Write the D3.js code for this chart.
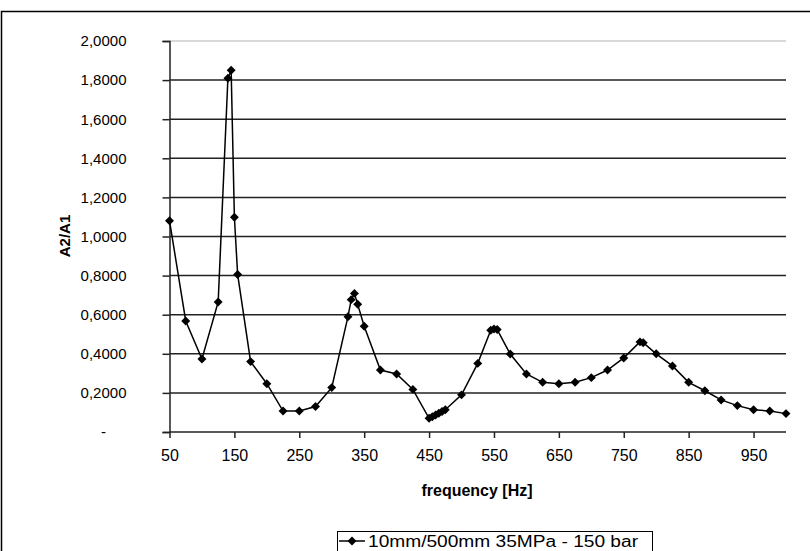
<!DOCTYPE html>
<html>
<head>
<meta charset="utf-8">
<script src="https://cdn.jsdelivr.net/npm/d3@7"></script>
<style>
  body { margin: 0; background: #fff; }
  svg { display: block; font-family: "Liberation Sans", Arial, sans-serif; }
</style>
</head>
<body>
<div id="chart"></div>
<script>
// measured data: frequency [Hz] vs A2/A1
const freq = [50, 75, 100, 125, 140, 145, 150, 155, 175, 200, 225, 250, 275, 300,
  325, 330, 335, 340, 350, 375, 400, 425, 450, 455, 460, 465, 470, 475, 500, 525,
  545, 550, 555, 575, 600, 625, 650, 675, 700, 725, 750, 775, 780, 800, 825, 850,
  875, 900, 925, 950, 975, 1000];
const ratio = [1.081, 0.568, 0.373, 0.665, 1.809, 1.850, 1.098, 0.806, 0.360, 0.247,
  0.107, 0.107, 0.130, 0.227, 0.590, 0.677, 0.709, 0.653, 0.541, 0.317, 0.297, 0.218,
  0.070, 0.078, 0.087, 0.096, 0.105, 0.114, 0.190, 0.351, 0.520, 0.527, 0.524, 0.399,
  0.297, 0.254, 0.247, 0.254, 0.278, 0.317, 0.379, 0.461, 0.457, 0.400, 0.338, 0.254,
  0.211, 0.164, 0.135, 0.114, 0.107, 0.094];
const xTicks = [50, 150, 250, 350, 450, 550, 650, 750, 850, 950];
const yTicks = [0, 0.2, 0.4, 0.6, 0.8, 1.0, 1.2, 1.4, 1.6, 1.8, 2.0];
const seriesName = "10mm/500mm 35MPa - 150 bar";

const W = 810, H = 551;
const plot = {left: 169.5, right: 786, top: 41, bottom: 432};

const svg = d3.select("#chart").append("svg")
  .attr("width", W).attr("height", H);

// chart border (right and bottom edges fall outside the picture)
svg.append("rect")
  .attr("x", 1.5).attr("y", 11.5)
  .attr("width", W + 20).attr("height", H + 20)
  .attr("fill", "none").attr("stroke", "#000").attr("stroke-width", 1.5);

const x = d3.scaleLinear().domain([50, 1000]).range([plot.left, plot.right]);
const y = d3.scaleLinear().domain([0, 2]).range([plot.bottom, plot.top]);

// gridlines
svg.append("g")
  .selectAll("line")
  .data(yTicks.filter(d => d > 0))
  .join("line")
    .attr("x1", plot.left).attr("x2", plot.right)
    .attr("y1", d => y(d)).attr("y2", d => y(d))
    .attr("stroke", d => d === 2 ? "#ccc" : "#222")
    .attr("stroke-width", 1.5);

// y axis
const yAxis = svg.append("g")
  .attr("transform", `translate(${plot.left},0)`)
  .call(d3.axisLeft(y).tickValues(yTicks).tickSize(7).tickPadding(36)
    .tickFormat(d => d === 0 ? "-" : d.toFixed(4).replace(".", ",")));
yAxis.select(".domain").attr("stroke", "#222").attr("stroke-width", 1.5);
yAxis.selectAll(".tick line").attr("stroke", "#222").attr("stroke-width", 1.5);
yAxis.selectAll("text")
  .attr("fill", "#000")
  .style("font-size", "15px");
yAxis.selectAll(".tick").filter(d => d === 0).select("text")
  .attr("text-anchor", "middle").attr("x", -66);

// x axis
const xAxis = svg.append("g")
  .attr("transform", `translate(0,${plot.bottom})`)
  .call(d3.axisBottom(x).tickValues(xTicks).tickSize(6).tickPadding(12));
xAxis.select(".domain").attr("stroke", "#222").attr("stroke-width", 1.5)
  .attr("d", `M${plot.left},0H${plot.right}`);
xAxis.selectAll(".tick line").attr("stroke", "#222").attr("stroke-width", 1.5);
xAxis.selectAll("text")
  .attr("fill", "#000")
  .style("font-size", "16px");

// axis titles
svg.append("text")
  .attr("transform", `translate(70,236) rotate(-90)`)
  .attr("text-anchor", "middle")
  .style("font-size", "15px")
  .style("font-weight", "700")
  .text("A2/A1");

svg.append("text")
  .attr("x", 477).attr("y", 496)
  .attr("text-anchor", "middle")
  .style("font-size", "16px")
  .style("font-weight", "700")
  .text("frequency [Hz]");

// series
const data = freq.map((f, i) => ({f: f, v: ratio[i]}));
const diamond = d3.symbol().type(d3.symbolSquare).size(40);

svg.append("path")
  .datum(data)
  .attr("fill", "none")
  .attr("stroke", "#000")
  .attr("stroke-width", 1.5)
  .attr("d", d3.line().x(d => x(d.f)).y(d => y(d.v)));

svg.append("g")
  .selectAll("path")
  .data(data)
  .join("path")
    .attr("d", diamond)
    .attr("transform", d => `translate(${x(d.f)},${y(d.v)}) rotate(45)`)
    .attr("fill", "#000");

// legend
const lg = svg.append("g").attr("transform", "translate(337,531)");
lg.append("rect")
  .attr("x", 0.5).attr("y", 0.5).attr("width", 315).attr("height", 30)
  .attr("fill", "#fff").attr("stroke", "#000").attr("stroke-width", 1);
lg.append("line")
  .attr("x1", 2).attr("x2", 28).attr("y1", 10).attr("y2", 10)
  .attr("stroke", "#000").attr("stroke-width", 1.5);
lg.append("path")
  .attr("d", diamond)
  .attr("transform", "translate(15,10) rotate(45)");
lg.append("text")
  .attr("x", 31).attr("y", 15.5)
  .attr("textLength", 270)
  .attr("lengthAdjust", "spacingAndGlyphs")
  .style("font-size", "16px")
  .text(seriesName);
</script>
</body>
</html>
